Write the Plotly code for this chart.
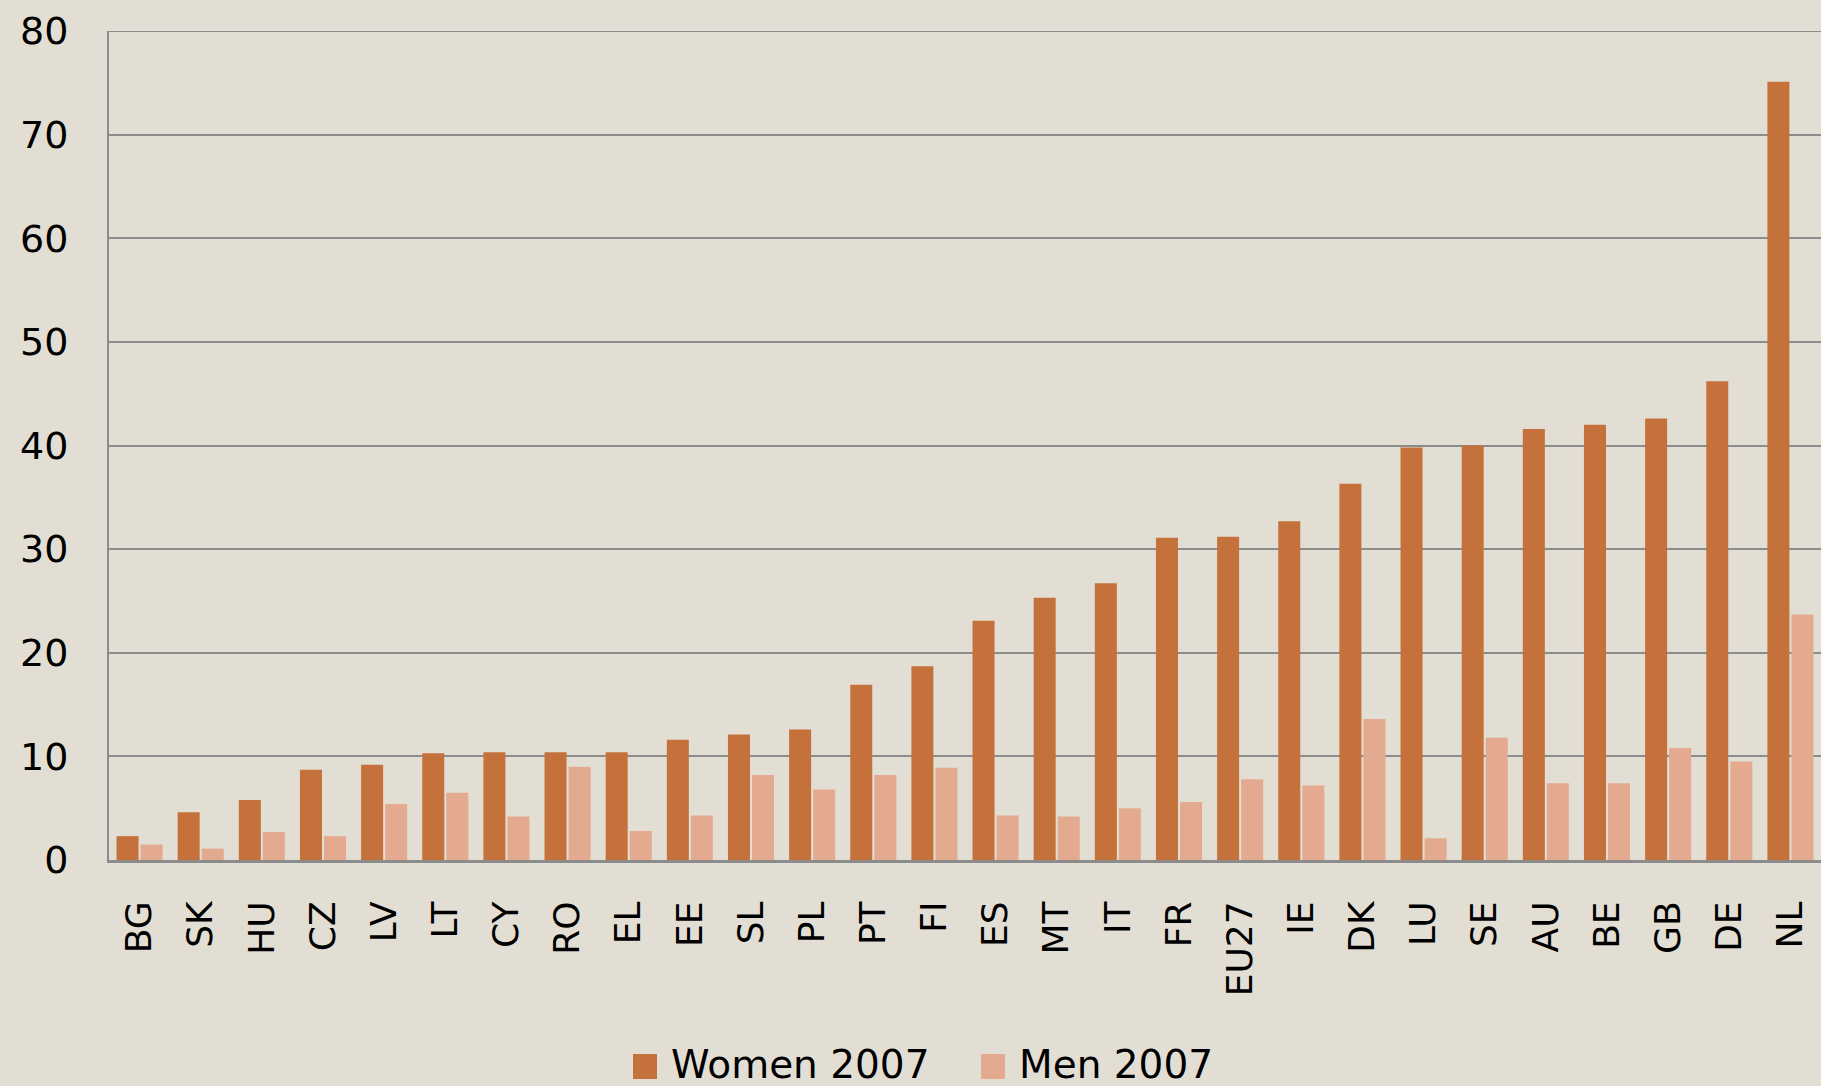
import plotly.graph_objects as go

countries = ["BG", "SK", "HU", "CZ", "LV", "LT", "CY", "RO", "EL", "EE", "SL", "PL", "PT", "FI",
             "ES", "MT", "IT", "FR", "EU27", "IE", "DK", "LU", "SE", "AU", "BE", "GB", "DE", "NL"]
women_2007 = [2.3, 4.6, 5.8, 8.7, 9.2, 10.3, 10.4, 10.4, 10.4, 11.6, 12.1, 12.6, 16.9, 18.7,
              23.1, 25.3, 26.7, 31.1, 31.2, 32.7, 36.3, 39.8, 40.0, 41.6, 42.0, 42.6, 46.2, 75.1]
men_2007 = [1.5, 1.1, 2.7, 2.3, 5.4, 6.5, 4.2, 9.0, 2.8, 4.3, 8.2, 6.8, 8.2, 8.9,
            4.3, 4.2, 5.0, 5.6, 7.8, 7.2, 13.6, 2.1, 11.8, 7.4, 7.4, 10.8, 9.5, 23.7]
y_ticks = [0, 10, 20, 30, 40, 50, 60, 70, 80]
legend_labels = ["Women 2007", "Men 2007"]

WOMEN_COLOR = "#C4713C"
MEN_COLOR = "#E4AA90"
BG = "#E3DED3"
GRID = "#8C8C8C"
FONT = "DejaVu Sans"

fig = go.Figure()
fig.add_trace(go.Bar(x=countries, y=women_2007, name=legend_labels[0],
                     marker=dict(color=WOMEN_COLOR, line=dict(width=0)), showlegend=False))
fig.add_trace(go.Bar(x=countries, y=men_2007, name=legend_labels[1],
                     marker=dict(color=MEN_COLOR, line=dict(width=0)), showlegend=False))

W, H = 1821, 1086
L, R, T, B = 109, 0, 31, 226
pw, ph = W - L - R, H - T - B


def px(x):
    return (x - L) / pw


def py(y):
    return (H - B - y) / ph


shapes = []
annotations = []
# top gridline at the range maximum (plotly omits it at the edge)
shapes.append(dict(type="line", xref="paper", yref="y", x0=0, x1=1, y0=y_ticks[-1], y1=y_ticks[-1],
                   line=dict(color=GRID, width=2), layer="below"))

# manual legend (large square swatches)
legend_items = [(legend_labels[0], WOMEN_COLOR, 633, 669), (legend_labels[1], MEN_COLOR, 981, 1017)]
for label, color, sx, tx in legend_items:
    shapes.append(dict(type="rect", xref="paper", yref="paper",
                       x0=px(sx), x1=px(sx + 24), y0=py(1079), y1=py(1054),
                       fillcolor=color, line=dict(width=0), layer="above"))
    annotations.append(dict(text=label, xref="paper", yref="paper", x=px(tx), y=py(1064),
                            xanchor="left", yanchor="middle", showarrow=False,
                            font=dict(family=FONT, size=39, color="black")))

fig.update_layout(
    width=W, height=H,
    margin=dict(l=L, r=R, t=T, b=B, pad=0),
    paper_bgcolor=BG, plot_bgcolor=BG,
    barmode="group", bargap=0.213, bargroupgap=0.085,
    font=dict(family=FONT, color="black"),
    shapes=shapes, annotations=annotations,
    showlegend=False,
)
fig.update_xaxes(
    type="category", showgrid=False, tickangle=-90,
    tickfont=dict(family=FONT, size=36, color="black"),
    showline=True, linecolor=GRID, linewidth=3, ticks="",
    ticklabelstandoff=24, zeroline=False,
)
fig.update_yaxes(
    range=[0, 80], tickvals=y_ticks, showgrid=True, gridcolor=GRID, gridwidth=2,
    showline=True, linecolor=GRID, linewidth=2, ticks="", zeroline=False,
    tickfont=dict(family=FONT, size=38, color="black"),
    ticklabelstandoff=31,
)

fig.write_html("out.html", config={"displayModeBar": False},
               post_script="document.body.style.margin='0';document.body.style.padding='0';")
